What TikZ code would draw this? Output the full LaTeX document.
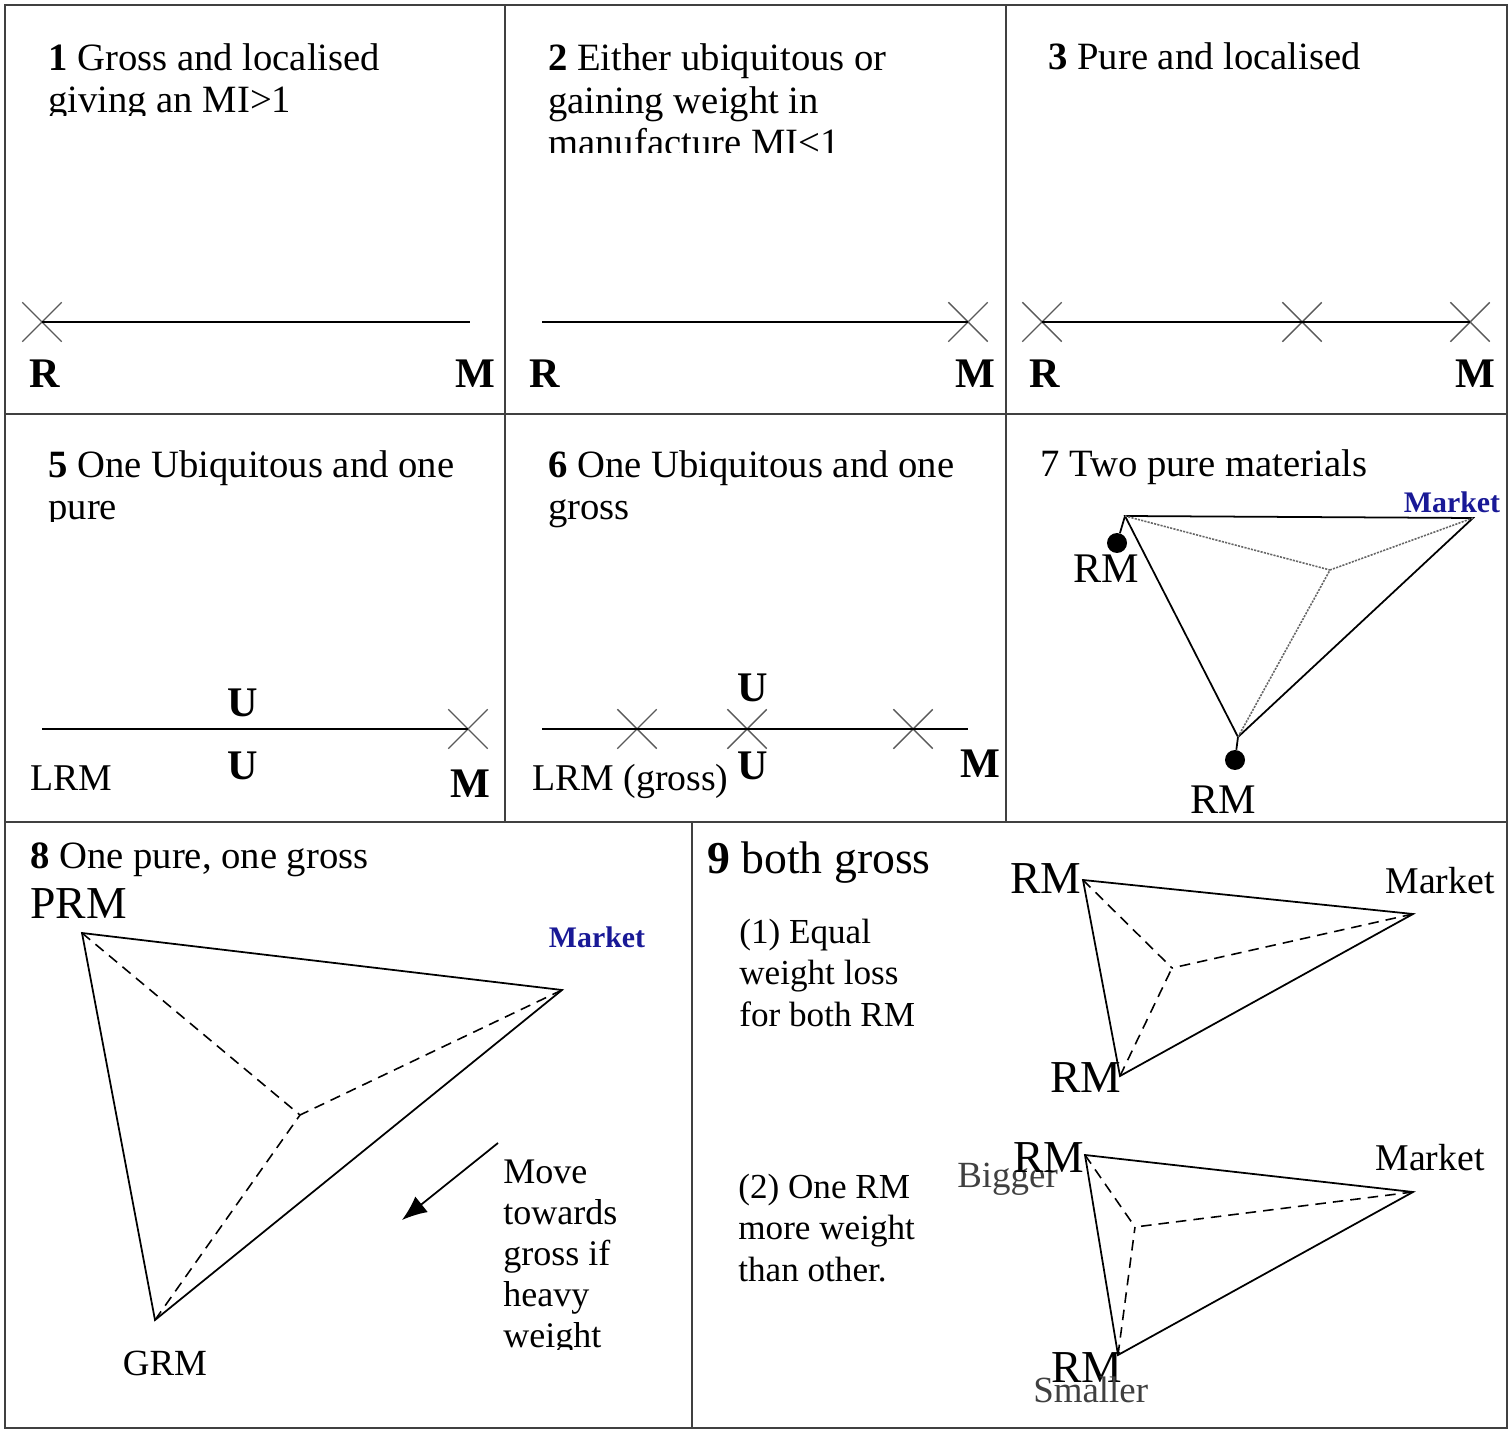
\documentclass[tikz,border=0pt]{standalone}
\usepackage{fontspec}
\setmainfont{Liberation Serif}
\usetikzlibrary{shapes.misc}
\usetikzlibrary{arrows.meta}
\definecolor{mktblue}{RGB}{25,25,150}
\tikzset{
  every node/.style={inner sep=0pt},
  grid line/.style={draw=black!75, line width=1.3pt},
  route/.style={line width=1pt},
  pull/.style={line width=0.9pt, dash pattern=on 6pt off 4pt},
  faint pull/.style={black!60, line width=0.9pt, dash pattern=on 1.2pt off 0.7pt},
  xcross/.style={cross out, draw=black!65, line width=0.8pt, minimum size=0.76cm},
  % multi-line texts are placed by the baseline of their last line
  ttl/.style={anchor=base west, align=left, font=\fontsize{22}{24.4}\selectfont},
  endlbl/.style={anchor=base, font=\fontsize{24}{28}\selectfont\bfseries},
  endtxt/.style={anchor=base west, font=\fontsize{21.5}{25}\selectfont},
  rmlbl/.style={anchor=base, font=\fontsize{24}{28}\selectfont},
  bigrm/.style={anchor=base, font=\fontsize{26}{30}\selectfont},
  mkt/.style={anchor=base, text=mktblue, font=\fontsize{17}{20}\selectfont\bfseries},
  plain/.style={anchor=base west, align=left, font=\fontsize{20}{23.6}\selectfont},
  site/.style={circle, fill=black, minimum size=0.4cm}
}

\begin{document}
\begin{tikzpicture}[x=0.02cm, y=-0.02cm]
  \useasboundingbox (0,0) rectangle (1512,1432);
  % table
  \draw[grid line] (5,5) rectangle (1507,1428);
  \draw[grid line] (5,414) -- (1507,414) (5,822) -- (1507,822);
  \draw[grid line] (505,5) -- (505,822) (1006,5) -- (1006,822) (692,822) -- (692,1428);

  % 1
  \begin{scope}
    \clip (5,5) rectangle (505,116);
    \node[ttl] (t1) at (48,113) {\textbf{1} Gross and localised\\giving an MI>1};
  \end{scope}
  \node[xcross] (c1r) at (42,322) {};
  \coordinate (c1m) at (470,322);
  \draw[route] (c1r.center) -- (c1m);
  \node[endlbl] (l1r) at (45,388) {R};
  \node[endlbl] (l1m) at (475,388) {M};

  % 2
  \begin{scope}
    \clip (505,5) rectangle (1006,153);
    \node[ttl] (t2) at (548,156) {\textbf{2} Either ubiquitous or\\gaining weight in\\manufacture MI<1};
  \end{scope}
  \coordinate (c2r) at (542,322);
  \node[xcross] (c2m) at (968,322) {};
  \draw[route] (c2r) -- (c2m.center);
  \node[endlbl] (l2r) at (545,388) {R};
  \node[endlbl] (l2m) at (975,388) {M};

  % 3
  \node[ttl] (t3) at (1048,70) {\textbf{3} Pure and localised};
  \node[xcross] (c3r) at (1042,322) {};
  \node[xcross] (c3x) at (1302,322) {};
  \node[xcross] (c3m) at (1470,322) {};
  \draw[route] (c3r.center) -- (c3x.center) -- (c3m.center);
  \node[endlbl] (l3r) at (1045,388) {R};
  \node[endlbl] (l3m) at (1475,388) {M};

  % 5
  \begin{scope}
    \clip (5,414) rectangle (505,522);
    \node[ttl] (t5) at (48,520) {\textbf{5} One Ubiquitous and one\\pure};
  \end{scope}
  \coordinate (c5l) at (42,729);
  \node[xcross] (c5m) at (468,729) {};
  \draw[route] (c5l) -- (c5m.center);
  \node[endlbl] (u5a) at (243,717) {U};
  \node[endlbl] (u5b) at (243,780) {U};
  \node[endtxt] (l5r) at (30,790) {LRM};
  \node[endlbl] (l5m) at (470,797) {M};

  % 6
  \node[ttl] (t6) at (548,520) {\textbf{6} One Ubiquitous and one\\gross};
  \coordinate (c6l) at (542,729);
  \coordinate (c6r) at (968,729);
  \node[xcross] (c6a) at (637,729) {};
  \node[xcross] (c6u) at (747,729) {};
  \node[xcross] (c6b) at (913,729) {};
  \draw[route] (c6l) -- (c6r);
  \node[endlbl] (u6a) at (753,702) {U};
  \node[endlbl] (u6b) at (753,780) {U};
  \node[endtxt] (l6r) at (532,790) {LRM (gross)};
  \node[endlbl] (l6m) at (980,777) {M};

  % 7
  \node[ttl] (t7) at (1040,477) {7 Two pure materials};
  \coordinate (a7) at (1125,516);
  \coordinate (b7) at (1473,518);
  \coordinate (c7) at (1238,737);
  \coordinate (p7) at (1330,570);
  \node[site] (d7a) at (1117,543) {};
  \node[site] (d7b) at (1235,760) {};
  \draw[route] (a7) -- (b7) -- (c7) -- cycle;
  \draw[route] (a7) -- (d7a) (c7) -- (d7b);
  \draw[faint pull] (a7) -- (p7) (b7) -- (p7) (c7) -- (p7);
  \node[rmlbl] (r7a) at (1106,583) {RM};
  \node[rmlbl] (r7b) at (1223,813) {RM};
  \node[mkt] (m7) at (1452,513) {Market};

  % 8
  \node[ttl] (t8) at (30,868) {\textbf{8} One pure, one gross};
  \node[anchor=base west, font=\fontsize{26}{30}\selectfont] (prm) at (30,918) {PRM};
  \coordinate (p8) at (82,933);
  \coordinate (m8) at (562,990);
  \coordinate (g8) at (155,1320);
  \coordinate (c8) at (300,1115);
  \draw[route] (p8) -- (m8) -- (g8) -- cycle;
  \draw[pull] (p8) -- (c8) (m8) -- (c8) (g8) -- (c8);
  \node[mkt] (mk8) at (597,947) {Market};
  \node[anchor=base, font=\fontsize{21}{25}\selectfont] (grm) at (165,1375) {GRM};
  \coordinate (mv0) at (498,1143);
  \coordinate (mv1) at (402,1220);
  \draw[route, -{Latex[length=0.5cm, width=0.4cm]}] (mv0) -- (mv1);
  \begin{scope}
    \clip (380,1140) rectangle (690,1349);
    \node[plain, font=\fontsize{20.5}{23.2}\selectfont] (mv) at (503,1347) {Move\\towards\\gross if\\heavy\\weight};
  \end{scope}

  % 9
  \node[anchor=base west, font=\fontsize{26}{30}\selectfont] (t9) at (707,873) {\textbf{9} both gross};
  \node[plain] (q1) at (739,1026) {(1) Equal\\weight loss\\for both RM};
  \node[plain] (q2) at (738,1281) {(2) One RM\\more weight\\than other.};
  % equal loss
  \coordinate (a9) at (1083,880);
  \coordinate (m9) at (1413,914);
  \coordinate (b9) at (1120,1076);
  \coordinate (p9) at (1172,968);
  \draw[route] (a9) -- (m9) -- (b9) -- cycle;
  \draw[pull] (a9) -- (p9) (m9) -- (p9) (b9) -- (p9);
  \node[bigrm] (r9a) at (1046,893) {RM};
  \node[bigrm] (r9b) at (1086,1092) {RM};
  \node[anchor=base, font=\fontsize{21.5}{25}\selectfont] (k9) at (1440,893) {Market};
  % unequal loss
  \coordinate (a10) at (1085,1155);
  \coordinate (m10) at (1413,1192);
  \coordinate (b10) at (1118,1355);
  \coordinate (p10) at (1135,1227);
  \draw[route] (a10) -- (m10) -- (b10) -- cycle;
  \draw[pull] (a10) -- (p10) (m10) -- (p10) (b10) -- (p10);
  \node[anchor=base west, text=black!75, font=\fontsize{21}{25}\selectfont] (bg) at (957,1187) {Bigger};
  \node[bigrm] (r10a) at (1049,1172) {RM};
  \node[anchor=base, font=\fontsize{21.5}{25}\selectfont] (k10) at (1430,1170) {Market};
  \node[bigrm] (r10b) at (1087,1382) {RM};
  \begin{scope}
    \clip (692,1300) rectangle (1507,1403);
    \node[anchor=base west, text=black!75, font=\fontsize{21}{25}\selectfont] (sm) at (1033,1402) {Smaller};
  \end{scope}
\end{tikzpicture}
\end{document}
